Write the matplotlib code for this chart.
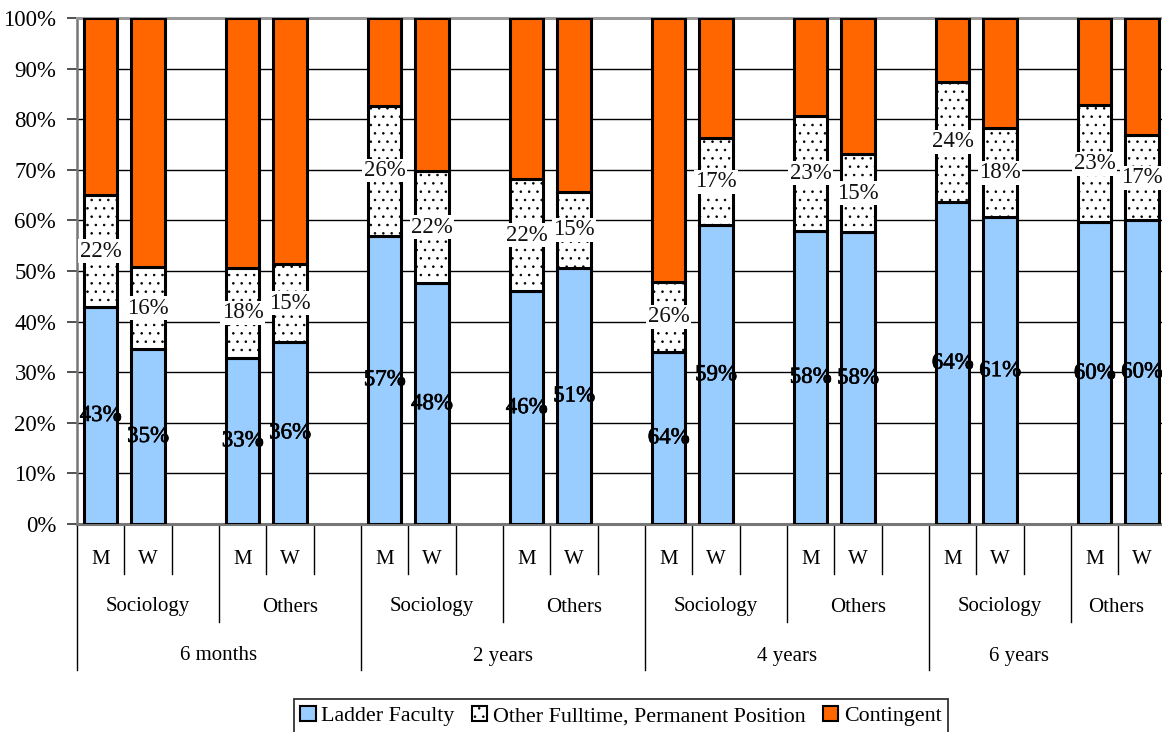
import matplotlib
matplotlib.use("Agg")
import matplotlib.pyplot as plt
import matplotlib.transforms as mtransforms
import matplotlib.patheffects as pe
from matplotlib.patches import Patch
import numpy as np

# ---- data -------------------------------------------------------------
periods = ["6 months", "2 years", "4 years", "6 years"]
fields = ["Sociology", "Others"]
sexes = ["M", "W"]
series_names = ["Ladder Faculty", "Other Fulltime, Permanent Position", "Contingent"]

# one value per bar, ordered period -> field -> sex
ladder = [42.9, 34.6, 32.9, 36.0,
          57.0, 47.6, 46.0, 50.6,
          64.0, 59.0, 58.0, 57.7,
          63.6, 60.6, 59.6, 60.1]
other = [22.1, 16.1, 17.6, 15.3,
         25.7, 22.2, 22.2, 15.1,
         26.0, 17.3, 22.6, 15.4,
         23.8, 17.6, 23.2, 16.7]
contingent = [35.0, 49.3, 49.5, 48.7,
              17.3, 30.3, 31.8, 34.3,
              98.0, 23.7, 19.4, 26.9,
              12.6, 21.8, 17.2, 23.2]

# ---- style ------------------------------------------------------------
plt.rcParams["font.family"] = ["Liberation Serif", "DejaVu Serif"]
plt.rcParams["hatch.linewidth"] = 0.6
plt.rcParams["hatch.color"] = "#222222"

C_LADDER = "#99CCFF"
C_OTHER = "white"
C_CONT = "#FF6600"
FS = 15.0
FS_VAL = 16.5

W, H = 1162, 732
fig = plt.figure(figsize=(W / 100, H / 100), dpi=100)
ax = fig.add_axes([77 / W, 1 - 524 / H, 1 - 77 / W, (524 - 18) / H])

# bar slot positions: 6 slots per period, 3 per field (M, W, gap)
xs = []
for p in range(len(periods)):
    for f in range(len(fields)):
        for s in range(len(sexes)):
            xs.append(p * 6 + f * 3 + s)
xs = np.array(xs, dtype=float)

L = np.array(ladder)
O = np.array(other)
C = np.array(contingent)
tot = L + O + C
Lp, Op, Cp = 100 * L / tot, 100 * O / tot, 100 * C / tot

bw = 0.70
kw = dict(width=bw, edgecolor="black", linewidth=2.2, zorder=3)
ax.bar(xs, Lp, color=C_LADDER, **kw)
ax.bar(xs, Op, bottom=Lp, color=C_OTHER, hatch="..", **kw)
ax.bar(xs, Cp, bottom=Lp + Op, color=C_CONT, **kw)

# value labels
for x, lv, lp, ov, op in zip(xs, L, Lp, O, Op):
    ax.text(x, lp / 2, f"{lv:.0f}%", ha="center", va="center", fontsize=FS_VAL,
            color="black", zorder=5,
            path_effects=[pe.withStroke(linewidth=0.45, foreground="black")])
    ax.text(x, lp + op / 2, f"{ov:.0f}%", ha="center", va="center", fontsize=FS_VAL,
            color="#111111", zorder=5,
            bbox=dict(facecolor="white", edgecolor="none", pad=1.0))

# axes
slot_px = (361 - 77) / 6
ax.set_xlim(-0.5, -0.5 + (W - 77) / slot_px)
ax.set_ylim(0, 100)
ax.set_yticks(np.arange(0, 101, 10))
ax.set_yticklabels([f"{v}%" for v in range(0, 101, 10)], fontsize=16.5)
ax.tick_params(axis="y", length=7, width=1.2, pad=8, color="#333333")
ax.set_xticks([])
ax.yaxis.grid(True, color="black", linewidth=1.0)
ax.set_axisbelow(True)
ax.spines["right"].set_visible(False)
ax.spines["top"].set_color("#999999")
ax.spines["top"].set_linewidth(2.2)
ax.spines["left"].set_color("#777777")
ax.spines["left"].set_linewidth(1.8)
ax.spines["bottom"].set_color("#777777")
ax.spines["bottom"].set_linewidth(2.2)

# multi-level category axis
tr = mtransforms.blended_transform_factory(ax.transData, fig.transFigure)
xmax = ax.get_xlim()[1]


def fy(px):
    return 1 - px / H


for b in range(0, len(periods) * 6):
    xb = b - 0.5
    if xb > xmax:
        break
    depth = 670 if b % 6 == 0 else (622 if b % 3 == 0 else 574)
    ax.plot([xb, xb], [fy(524), fy(depth)], transform=tr, color="black",
            linewidth=1.0, clip_on=False, zorder=2)

for x in xs:
    ax.text(x, fy(559), sexes[int(x) % 3], transform=tr, ha="center", va="center",
            fontsize=FS)

for p in range(len(periods)):
    for f in range(len(fields)):
        a = p * 6 + f * 3 - 0.5
        bnd = min(a + 3, xmax)
        ax.text((a + bnd) / 2, fy(607), fields[f], transform=tr, ha="center",
                va="center", fontsize=FS)

period_x = [2.5, 8.5, 14.5, 19.4]
for p, name in enumerate(periods):
    ax.text(period_x[p], fy(656), name, transform=tr, ha="center", va="center",
            fontsize=FS)

# legend
handles = [
    Patch(facecolor=C_LADDER, edgecolor="black", linewidth=1.5),
    Patch(facecolor=C_OTHER, edgecolor="black", linewidth=1.5, hatch=".."),
    Patch(facecolor=C_CONT, edgecolor="black", linewidth=1.5),
]
leg = fig.legend(handles, series_names, loc="center",
                 bbox_to_anchor=(621 / W, fy(716)), ncol=3, fontsize=15.8,
                 frameon=True, fancybox=False, edgecolor="black",
                 handlelength=0.7, handleheight=0.7, handletextpad=0.25,
                 columnspacing=0.8, borderpad=0.3, borderaxespad=0)
leg.get_frame().set_linewidth(1.3)

fig.savefig("out.png", dpi=100, facecolor="white")
